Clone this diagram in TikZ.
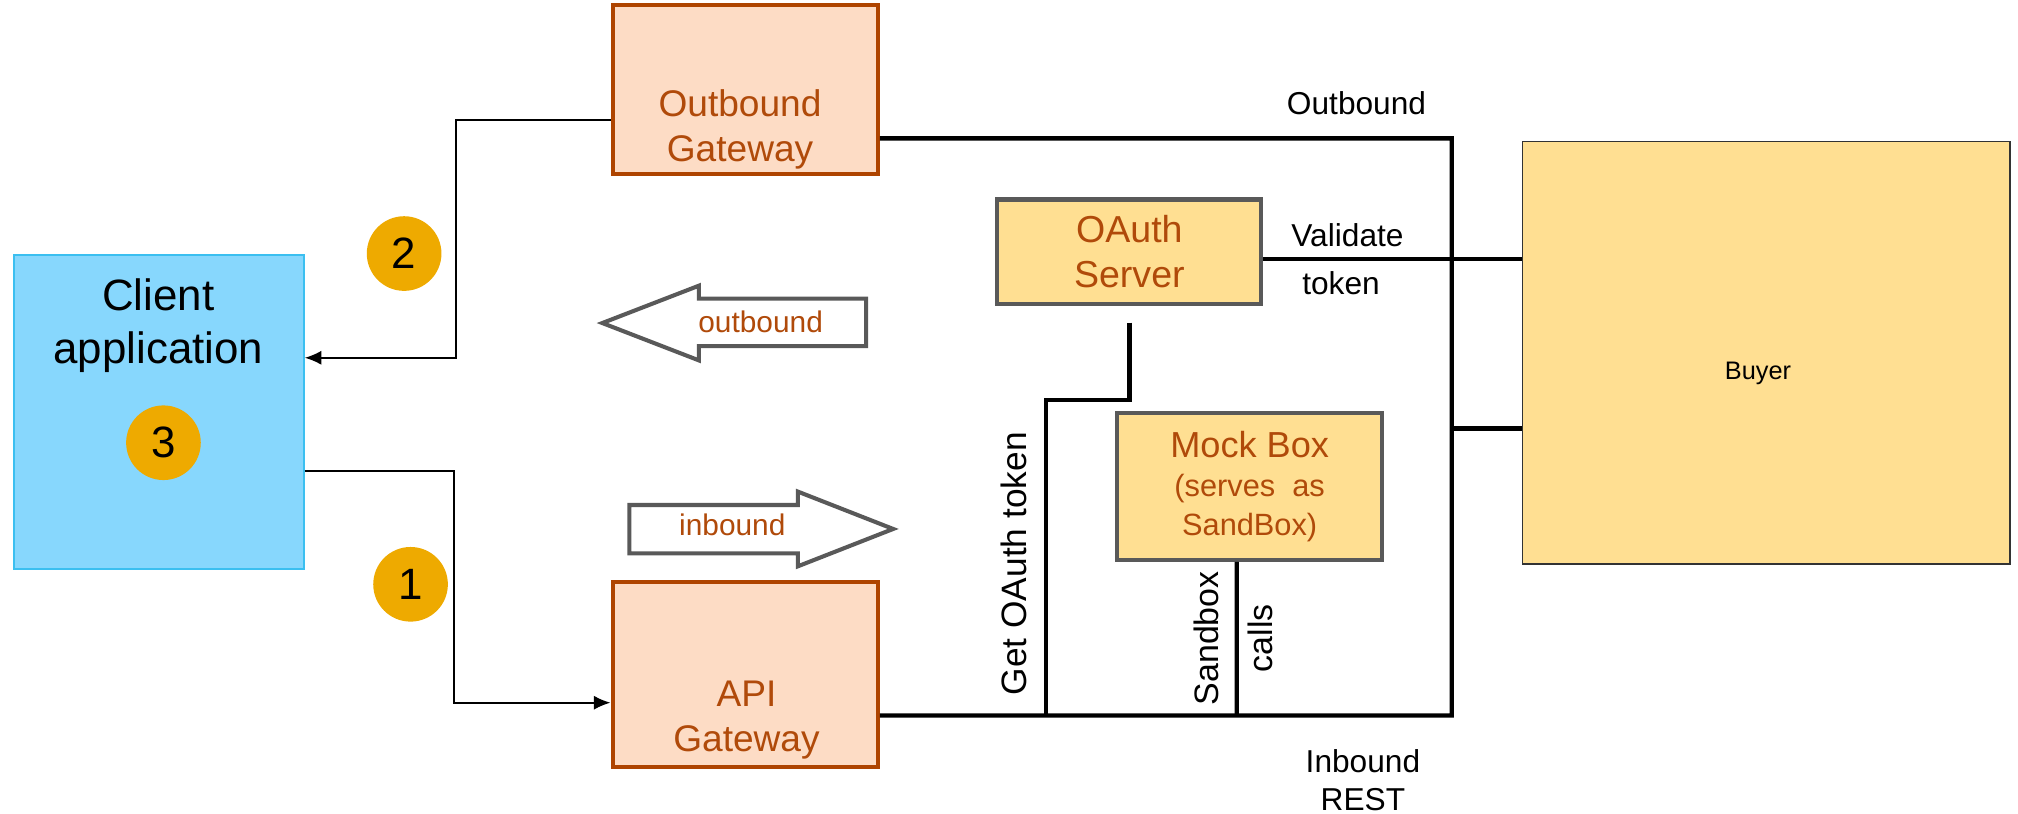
\documentclass[tikz,border=0pt]{standalone}
\usepackage{fontspec}
\setmainfont{Liberation Sans}
\usepackage{tikz}
\usetikzlibrary{arrows,arrows.meta,positioning}
\usetikzlibrary{calc}

\definecolor{clientfill}{HTML}{87D7FD}
\definecolor{clientline}{HTML}{3BBFF0}
\definecolor{gwfill}{HTML}{FDDCC5}
\definecolor{gwline}{HTML}{AE4400}
\definecolor{txtbrown}{HTML}{B04A0A}
\definecolor{goldfill}{HTML}{FFDF92}
\definecolor{boxgray}{HTML}{595959}
\definecolor{badgefill}{HTML}{EEAA00}

\begin{document}
\begin{tikzpicture}[
    box/.style={rectangle, draw, inner sep=0pt},
    gwbox/.style={box, draw=gwline, fill=gwfill, line width=0.9pt},
    goldbox/.style={box, draw=boxgray, fill=goldfill, line width=0.9pt},
    badge/.style={circle, fill=badgefill, minimum size=0.58cm, inner sep=0pt, font=\fontsize{9.7}{11}\selectfont},
    brown/.style={text=txtbrown, align=center},
    lbl/.style={font=\fontsize{7}{8.4}\selectfont, align=center},
    arrow/.style={line width=0.45pt,->,>={Latex[length=1.3mm,width=1.1mm]}},
    bus/.style={line width=0.95pt},
    blockarr/.style={draw=boxgray, line width=0.9pt, fill=white}
]
\useasboundingbox (0,0) rectangle (15.68,-6.32);

% boxes
\node[box, draw=clientline, fill=clientfill, line width=0.4pt, minimum width=2.25cm, minimum height=2.44cm] (client) at (1.235,-3.20) {};
\node[font=\fontsize{9.7}{11.9}\selectfont, align=center] (clientlbl) at (1.23,-2.53) {Client\\application};
\node[gwbox, minimum width=2.06cm, minimum height=1.31cm] (outgw) at (5.79,-0.695) {};
\node[brown, font=\fontsize{8.2}{10}\selectfont] (outgwlbl) at (5.75,-1.005) {Outbound\\Gateway};
\node[gwbox, minimum width=2.06cm, minimum height=1.44cm] (apigw) at (5.79,-5.24) {};
\node[brown, font=\fontsize{8.2}{10}\selectfont] (apigwlbl) at (5.80,-5.595) {API\\Gateway};
\node[goldbox, brown, minimum width=2.05cm, minimum height=0.81cm, font=\fontsize{8.3}{10}\selectfont] (oauth) at (8.775,-1.955) {OAuth\\Server};
\node[goldbox, brown, minimum width=2.06cm, minimum height=1.14cm, font=\fontsize{6.8}{8.6}\selectfont] (mock) at (9.71,-3.78) {{\fontsize{8}{9}\selectfont Mock Box}\\(serves~~as\\SandBox)};
\node[box, draw=black!80, fill=goldfill, line width=0.4pt, minimum width=3.79cm, minimum height=3.28cm] (buyer) at (13.725,-2.74) {};
\node[font=\fontsize{5.6}{7}\selectfont] (buyerlbl) at (13.66,-2.90) {Buyer};

% numbered steps
\node[badge] (two) at (3.14,-1.97) {2};
\node[badge] (three) at (1.27,-3.44) {3};
\node[badge] (one) at (3.19,-4.54) {1};

% block arrows
\draw[blockarr] (4.68,-2.51) -- (5.43,-2.22) -- (5.43,-2.32) -- (6.73,-2.32) -- (6.73,-2.69) -- (5.43,-2.69) -- (5.43,-2.80) -- cycle;
\node[brown, font=\fontsize{6.6}{8}\selectfont] (outarrlbl) at (5.91,-2.50) {outbound};
\draw[blockarr] (4.89,-3.924) -- (6.20,-3.924) -- (6.20,-3.82) -- (6.94,-4.11) -- (6.20,-4.40) -- (6.20,-4.30) -- (4.89,-4.30) -- cycle;
\node[brown, font=\fontsize{6.6}{8}\selectfont] (inarrlbl) at (5.69,-4.08) {inbound};

% client connectors
\draw[arrow] ([yshift=-4.6mm]client.east) -- ++(1.16,0) |- ([yshift=-2.2mm]apigw.west);
\draw[arrow] ([yshift=-2.35mm]outgw.west) -- ++(-1.2,0) |- ([yshift=4.2mm]client.east);

% backbone
\coordinate (jtop) at (11.28,-1.075);
\coordinate (jmid) at (11.28,-3.33);
\coordinate (jbot) at (11.28,-5.56);
\coordinate (jget) at (8.13,-5.56);
\coordinate (jsb) at (9.61,-5.56);
\draw[bus] ([yshift=-3.8mm]outgw.east) -- (jtop) -- (jbot) -- ([yshift=-3.2mm]apigw.east);
\draw[bus] ([yshift=-0.6mm]oauth.east) -- ([yshift=-0.6mm]oauth.east -| buyer.west);
\draw[bus] (jmid) -- (jmid -| buyer.west);
\draw[bus] ([yshift=-1.3mm]oauth.south) -- ++(0,-0.6) -| (jget);
\draw[bus] ([xshift=-1mm]mock.south) -- (jsb);

% labels
\node[lbl] (outlabel) at (10.54,-0.80) {Outbound};
\node[lbl] (validate) at (10.47,-1.83) {Validate};
\node[lbl] (token) at (10.42,-2.20) {token};
\node[lbl, rotate=90, font=\fontsize{7.8}{9}\selectfont] (getlbl) at (7.88,-4.38) {Get OAuth token};
\node[lbl, rotate=90, font=\fontsize{7.5}{9}\selectfont] (sblbl) at (9.37,-4.96) {Sandbox};
\node[lbl, rotate=90, font=\fontsize{7.5}{9}\selectfont] (callslbl) at (9.79,-4.96) {calls};
\node[lbl] (inlabel) at (10.59,-6.06) {Inbound\\REST};
\end{tikzpicture}
\end{document}
